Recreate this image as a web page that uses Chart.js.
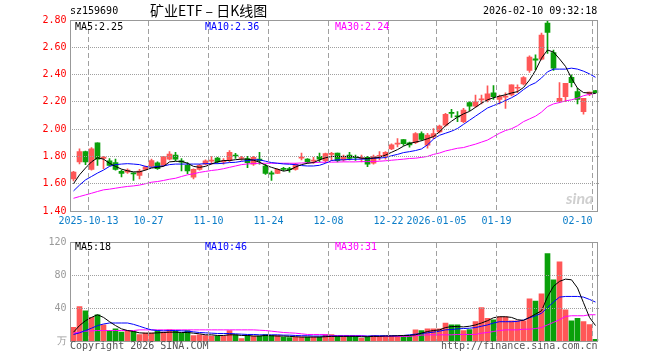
<!DOCTYPE html>
<html><head><meta charset="utf-8">
<script src="https://cdn.jsdelivr.net/npm/chart.js@4"></script>
<style>
html,body{margin:0;padding:0;background:#fff;}
body{width:660px;height:360px;overflow:hidden;position:relative;}
canvas{position:absolute;left:0;}
#c1{top:0;}
#c2{top:232px;}
.t{position:absolute;font-family:'DejaVu Sans Mono',monospace;font-size:10px;line-height:12px;white-space:pre;color:#000;}
.cn{position:absolute;font-family:'Noto Sans CJK SC',sans-serif;font-size:14px;line-height:16px;white-space:pre;color:#000;}
</style></head><body>
<canvas id="c1" width="660" height="232"></canvas>
<canvas id="c2" width="660" height="128"></canvas>
<div class="t" style="left:70px;top:5px">sz159690</div>
<div class="cn" style="left:150px;top:2px">矿业ETF – 日K线图</div>
<div class="t" style="left:483px;top:5px">2026-02-10 09:32:18</div>
<div class="t" style="left:75px;top:21px;color:#000">MA5:2.25</div>
<div class="t" style="left:205px;top:21px;color:#0000ff">MA10:2.36</div>
<div class="t" style="left:335px;top:21px;color:#ff00ff">MA30:2.24</div>
<div class="t" style="left:75px;top:241px;color:#000">MA5:18</div>
<div class="t" style="left:205px;top:241px;color:#0000ff">MA10:46</div>
<div class="t" style="left:335px;top:241px;color:#ff00ff">MA30:31</div>
<div class="t" style="left:70px;top:340px;color:#555">Copyright 2026 SINA.COM</div>
<div class="t" style="left:441px;top:340px;color:#555">http://finance.sina.com.cn</div>
<div style="position:absolute;left:566px;top:188px;font-family:Lato,sans-serif;font-style:italic;font-weight:bold;font-size:16px;color:#cfcfcf">sina</div>
<script>
const dates = ['2025-09-30','2025-10-09','2025-10-10','2025-10-13','2025-10-14','2025-10-15','2025-10-16','2025-10-17','2025-10-20','2025-10-21',
'2025-10-22','2025-10-23','2025-10-24','2025-10-27','2025-10-28','2025-10-29','2025-10-30','2025-10-31','2025-11-03','2025-11-04',
'2025-11-05','2025-11-06','2025-11-07','2025-11-10','2025-11-11','2025-11-12','2025-11-13','2025-11-14','2025-11-17','2025-11-18',
'2025-11-19','2025-11-20','2025-11-21','2025-11-24','2025-11-25','2025-11-26','2025-11-27','2025-11-28','2025-12-01','2025-12-02',
'2025-12-03','2025-12-04','2025-12-05','2025-12-08','2025-12-09','2025-12-10','2025-12-11','2025-12-12','2025-12-15','2025-12-16',
'2025-12-17','2025-12-18','2025-12-19','2025-12-22','2025-12-23','2025-12-24','2025-12-25','2025-12-26','2025-12-29','2025-12-30',
'2025-12-31','2026-01-05','2026-01-06','2026-01-07','2026-01-08','2026-01-09','2026-01-12','2026-01-13','2026-01-14','2026-01-15',
'2026-01-16','2026-01-19','2026-01-20','2026-01-21','2026-01-22','2026-01-23','2026-01-26','2026-01-27','2026-01-28','2026-01-29',
'2026-01-30','2026-02-02','2026-02-03','2026-02-04','2026-02-05','2026-02-06','2026-02-09','2026-02-10'];

const opens = [1.635,1.76,1.835,1.705,1.90,1.785,1.768,1.755,1.69,1.685,
1.68,1.66,1.705,1.728,1.753,1.735,1.78,1.81,1.768,1.735,
1.648,1.705,1.743,1.765,1.788,1.76,1.768,1.81,1.785,1.785,
1.743,1.78,1.73,1.68,1.675,1.71,1.71,1.705,1.788,1.78,
1.765,1.80,1.768,1.815,1.825,1.775,1.81,1.795,1.785,1.793,
1.75,1.80,1.80,1.855,1.89,1.923,1.90,1.90,1.968,1.882,
1.944,1.98,2.03,2.12,2.097,2.054,2.194,2.169,2.215,2.213,
2.267,2.218,2.235,2.25,2.30,2.331,2.43,2.515,2.513,2.778,
2.562,2.201,2.238,2.38,2.275,2.128,2.258,2.282];

const highs = [1.69,1.855,1.84,1.865,1.90,1.80,1.785,1.78,1.70,1.71,
1.68,1.705,1.73,1.78,1.76,1.80,1.835,1.83,1.785,1.755,
1.71,1.743,1.775,1.798,1.793,1.785,1.843,1.823,1.80,1.80,
1.80,1.83,1.743,1.693,1.71,1.72,1.72,1.75,1.825,1.785,
1.793,1.825,1.825,1.83,1.825,1.81,1.83,1.81,1.81,1.80,
1.81,1.835,1.835,1.893,1.93,1.923,1.905,1.975,1.98,1.97,
2.005,2.03,2.115,2.145,2.128,2.152,2.20,2.25,2.25,2.317,
2.32,2.25,2.267,2.324,2.324,2.385,2.537,2.545,2.705,2.807,
2.58,2.341,2.336,2.398,2.30,2.226,2.272,2.285];

const lows = [1.62,1.745,1.74,1.70,1.735,1.71,1.73,1.70,1.65,1.675,
1.625,1.635,1.70,1.725,1.705,1.73,1.775,1.768,1.693,1.673,
1.635,1.70,1.738,1.743,1.75,1.743,1.76,1.785,1.77,1.718,
1.735,1.743,1.668,1.625,1.673,1.695,1.685,1.70,1.775,1.75,
1.748,1.76,1.755,1.768,1.76,1.765,1.775,1.77,1.76,1.725,
1.743,1.775,1.78,1.85,1.87,1.88,1.868,1.893,1.918,1.86,
1.93,1.973,2.022,2.086,2.054,2.047,2.135,2.16,2.184,2.20,
2.218,2.184,2.152,2.243,2.267,2.324,2.415,2.435,2.508,2.555,
2.43,2.194,2.201,2.31,2.184,2.11,2.245,2.262];

const closes = [1.685,1.835,1.76,1.855,1.78,1.795,1.735,1.705,1.675,1.70,
1.672,1.693,1.723,1.77,1.71,1.798,1.818,1.78,1.758,1.693,
1.705,1.735,1.768,1.773,1.76,1.768,1.83,1.803,1.79,1.755,
1.793,1.768,1.675,1.67,1.705,1.705,1.703,1.743,1.793,1.76,
1.773,1.78,1.82,1.823,1.768,1.80,1.785,1.79,1.79,1.743,
1.80,1.805,1.83,1.885,1.895,1.893,1.885,1.968,1.925,1.956,
1.968,2.022,2.108,2.115,2.09,2.14,2.169,2.20,2.22,2.258,
2.238,2.238,2.24,2.324,2.304,2.378,2.528,2.505,2.69,2.709,
2.447,2.226,2.336,2.341,2.218,2.226,2.272,2.267];

const ma5 = [1.60,1.665,1.715,1.76,1.79,1.78,1.75,1.727,1.707,1.695,
1.687,1.687,1.70,1.715,1.72,1.727,1.76,1.764,1.764,1.75,
1.727,1.72,1.727,1.745,1.76,1.77,1.77,1.776,1.78,1.78,
1.772,1.758,1.735,1.72,1.707,1.692,1.70,1.722,1.74,1.75,
1.755,1.775,1.79,1.80,1.80,1.80,1.80,1.798,1.787,1.785,
1.788,1.793,1.81,1.83,1.85,1.875,1.895,1.905,1.915,1.93,
1.945,1.98,2.025,2.058,2.088,2.112,2.13,2.16,2.19,2.215,
2.23,2.242,2.252,2.265,2.275,2.305,2.36,2.43,2.52,2.58,
2.565,2.515,2.46,2.373,2.30,2.268,2.265,2.262];

const ma10 = [1.547,1.59,1.628,1.653,1.678,1.70,1.727,1.74,1.744,1.747,
1.744,1.74,1.727,1.72,1.727,1.73,1.74,1.744,1.744,1.744,
1.744,1.744,1.747,1.747,1.747,1.75,1.755,1.757,1.764,1.77,
1.775,1.775,1.765,1.755,1.75,1.745,1.743,1.74,1.733,1.73,
1.73,1.735,1.75,1.77,1.775,1.775,1.778,1.78,1.78,1.782,
1.787,1.788,1.792,1.805,1.815,1.828,1.835,1.843,1.855,1.885,
1.927,1.955,1.97,1.985,2.005,2.035,2.065,2.095,2.125,2.155,
2.173,2.19,2.21,2.23,2.255,2.29,2.32,2.34,2.375,2.42,
2.44,2.44,2.44,2.447,2.44,2.425,2.405,2.38];

const ma30 = [1.493,1.506,1.518,1.53,1.543,1.555,1.56,1.567,1.574,1.58,
1.584,1.59,1.60,1.611,1.616,1.624,1.633,1.64,1.653,1.665,
1.673,1.683,1.69,1.697,1.702,1.71,1.72,1.73,1.74,1.745,
1.748,1.75,1.75,1.75,1.75,1.75,1.75,1.75,1.752,1.753,
1.755,1.757,1.758,1.758,1.759,1.76,1.76,1.76,1.762,1.762,
1.763,1.765,1.768,1.772,1.776,1.78,1.785,1.787,1.793,1.80,
1.815,1.825,1.84,1.85,1.86,1.865,1.878,1.89,1.905,1.92,
1.945,1.97,1.99,2.003,2.025,2.055,2.075,2.095,2.125,2.165,
2.185,2.195,2.207,2.215,2.227,2.245,2.255,2.262];

const volumes = [16.7,41.7,36.5,28.6,31.8,19.5,12.7,14.7,10.7,12.7,
11.5,7.9,9.5,9.5,12.7,10.7,13.5,11.9,9.5,12.7,
6.7,7.5,6.7,6.0,6.0,6.0,12.7,7.5,2.8,6.7,
6.0,6.0,7.9,6.7,6.7,4.8,4.0,4.8,4.8,4.8,
4.8,4.8,7.9,7.9,5.6,5.6,5.6,5.6,3.6,5.6,
6.7,5.6,5.6,6.7,5.6,5.6,5.6,13.5,12.7,14.7,
14.7,14.7,21.8,19.5,19.5,12.7,13.9,23.4,40.5,27.4,
25.8,29.4,29.4,24.6,24.6,24.6,51.2,48.4,57.2,106,
74.2,96,37.7,24.6,27.4,23.4,19.9,2.0];

const volMa5 = [10.7,18.7,24.6,28.6,31.8,28.6,23.4,18.7,14.7,12.7,
11.5,9.9,9.5,9.5,9.9,10.3,10.7,10.7,10.3,10.3,
9.5,8.7,7.5,7.5,6.7,6.7,7.5,7.5,6.7,6.7,
6.0,6.0,6.7,6.4,6.0,6.0,5.6,5.2,4.8,4.8,
4.8,4.8,5.2,5.6,5.6,5.6,5.6,5.6,5.2,5.2,
5.6,5.6,6.0,6.0,6.4,6.7,6.7,7.5,9.5,11.5,
12.7,13.5,16.3,17.5,17.5,17.1,17.9,19.5,21.8,24.6,
28.2,29.4,29.4,28.6,25.8,25.0,28.6,32.6,36.5,53.6,
66.3,72.3,75.0,74.2,64.3,46.4,28.6,18.7];

const volMa10 = [7.9,9.9,12.7,15.5,18.7,20.6,21.8,21.8,21.8,21.8,
20.2,17.9,15.5,13.5,12.7,12.3,12.7,12.7,12.3,11.9,
11.1,10.3,9.9,9.5,9.1,9.1,9.1,8.7,8.3,7.9,
7.9,7.5,7.5,7.5,7.5,7.1,7.1,6.7,6.4,6.4,
6.0,6.0,6.0,6.0,6.0,6.0,6.0,6.0,6.0,6.0,
6.4,6.4,6.4,6.4,6.4,6.7,7.5,8.3,9.1,9.9,
10.7,11.9,13.5,13.9,14.7,15.1,15.5,16.3,17.9,19.5,
21.8,23.4,23.4,23.4,23.8,25.4,28.2,30.6,33.7,40.5,
47.2,53.2,54.0,54.0,54.0,53.2,50.4,47.2];

const volMa30 = [9.5,10.7,11.9,12.3,12.7,12.7,12.7,12.7,12.7,12.7,
12.7,13.5,13.5,13.5,13.5,13.5,13.5,13.5,13.5,13.5,
13.5,13.5,13.5,13.5,13.5,13.5,13.5,13.5,13.5,13.5,
13.5,13.1,12.7,11.9,11.1,10.3,9.9,9.5,8.7,7.9,
7.9,7.9,7.9,6.7,6.7,6.7,6.7,6.7,6.7,5.6,
5.6,5.6,5.6,5.6,5.6,5.6,5.6,6.4,7.1,7.5,
7.5,7.5,7.5,7.5,7.9,7.9,7.9,7.9,9.5,10.3,
11.5,12.7,13.5,13.5,13.5,14.3,14.3,15.1,16.3,19.5,
22.6,25.8,29.8,30.6,30.6,30.6,31.8,31.8];

const tickDates = ['2025-10-13','2025-10-27','2025-11-10','2025-11-24','2025-12-08','2025-12-22','2026-01-05','2026-01-19','2026-02-10'];
const tickLabels = ['2025-10-13','10-27','11-10','11-24','12-08','12-22','2026-01-05','01-19','02-10     '];
const priceTicks = [1.40, 2.80, 0.20];   // min, max, step
const volTicks = [0, 120, 40];

const RED = '#ff5757', GREEN = '#0aa00a';
const up = closes.map((c, i) => c >= opens[i]);
const dirColor = ctx => up[ctx.dataIndex] ? RED : GREEN;
const gridIdx = tickDates.map(d => dates.indexOf(d));
const MONO = "'DejaVu Sans Mono', monospace";

function drawSinaGrid(chart, t) {
  const c = chart.ctx, a = chart.chartArea;
  const ys = chart.scales.y;
  const step = (a.right - a.left) / dates.length;
  const top = Math.round(a.top), bottom = Math.round(a.bottom);
  const left = Math.round(a.left), right = Math.round(a.right);
  c.save();
  c.globalCompositeOperation = 'source-over';
  c.fillStyle = '#a0a0a0';
  for (let n = 0; n < gridIdx.length; n++) {
    const px = Math.floor(a.left + gridIdx[n] * step);
    for (let y = top + 1; y < bottom; y += 8) {
      c.fillRect(px, y, 1, Math.min(5, bottom - y));
    }
  }
  for (let v = t[0] + t[2]; v < t[1] - 1e-6; v += t[2]) {
    const py = Math.round(ys.getPixelForValue(v) - 0.5);
    for (let x = left + 1; x < right; x += 2) {
      c.fillRect(x, py, 1, 1);
    }
  }
  c.restore();
}

function makeGridPlugin(t) {
  return {
    id: 'sinaGrid',
    afterDatasetsDraw(chart) {
      drawSinaGrid(chart, t);
      const a = chart.chartArea, c = chart.ctx;
      const x0 = Math.floor(a.left) + 0.5, x1 = Math.floor(a.right) - 0.5;
      const y0 = Math.floor(a.top) + 0.5, y1 = Math.floor(a.bottom) + 0.5;
      c.save();
      c.strokeStyle = '#999999';
      c.lineWidth = 1;
      c.strokeRect(x0, y0, x1 - x0, y1 - y0);
      c.restore();
    }
  };
}

function xScale(showLabels) {
  return {
    type: 'category',
    offset: true,
    grid: { display: false, drawTicks: false, offset: true },
    border: { display: false },
    ticks: {
      display: showLabels,
      autoSkip: false,
      maxRotation: 0,
      minRotation: 0,
      labelOffset: -3,
      padding: 4,
      color: '#0b7dc8',
      font: { family: MONO, size: 10 },
      callback: (v, i) => {
        const k = tickDates.indexOf(dates[i]);
        return k >= 0 ? tickLabels[k] : '';
      }
    },
    afterFit: s => { s.height = showLabels ? 21 : 19; }
  };
}

function yScale(t, color, fmt) {
  return {
    type: 'linear',
    min: t[0], max: t[1],
    ticks: { stepSize: t[2], color: color, padding: 4, font: { family: MONO, size: 10 }, callback: fmt },
    grid: { display: false, drawTicks: false },
    border: { display: false },
    afterFit: s => { s.width = 70.5; }
  };
}

const lineDs = (data, color) => ({
  type: 'line', data: data, borderColor: color, borderWidth: 1,
  pointRadius: 0, tension: 0, fill: false, order: 0
});

const commonOpts = {
  responsive: false,
  animation: false,
  devicePixelRatio: 1,
  plugins: { legend: { display: false }, tooltip: { enabled: false } },
  events: []
};

new Chart(document.getElementById('c1'), {
  type: 'bar',
  data: {
    labels: dates,
    datasets: [
      lineDs(ma5, '#000000'),
      lineDs(ma10, '#0000ff'),
      lineDs(ma30, '#ff00ff'),
      { type: 'bar', data: opens.map((o, i) => [o, closes[i]]), backgroundColor: dirColor,
        barThickness: 5, minBarLength: 1, grouped: false, order: 1 },
      { type: 'bar', data: lows.map((l, i) => [l, highs[i]]), backgroundColor: dirColor,
        barThickness: 1, grouped: false, order: 2 }
    ]
  },
  options: Object.assign({}, commonOpts, {
    layout: { padding: { top: 20, right: 61.5, left: 0, bottom: 0 } },
    scales: {
      x: xScale(true),
      y: yScale(priceTicks, '#ff0000', v => Number(v).toFixed(2))
    }
  }),
  plugins: [makeGridPlugin(priceTicks)]
});

new Chart(document.getElementById('c2'), {
  type: 'bar',
  data: {
    labels: dates,
    datasets: [
      lineDs(volMa5, '#000000'),
      lineDs(volMa10, '#0000ff'),
      lineDs(volMa30, '#ff00ff'),
      { type: 'bar', data: volumes, backgroundColor: dirColor, barThickness: 5, grouped: false, order: 1 }
    ]
  },
  options: Object.assign({}, commonOpts, {
    layout: { padding: { top: 8, right: 61.5, left: 0, bottom: 0 } },
    scales: {
      x: xScale(false),
      y: yScale(volTicks, '#999999', v => v === 0 ? '万' : String(v))
    }
  }),
  plugins: [makeGridPlugin(volTicks)]
});
</script>
</body></html>
